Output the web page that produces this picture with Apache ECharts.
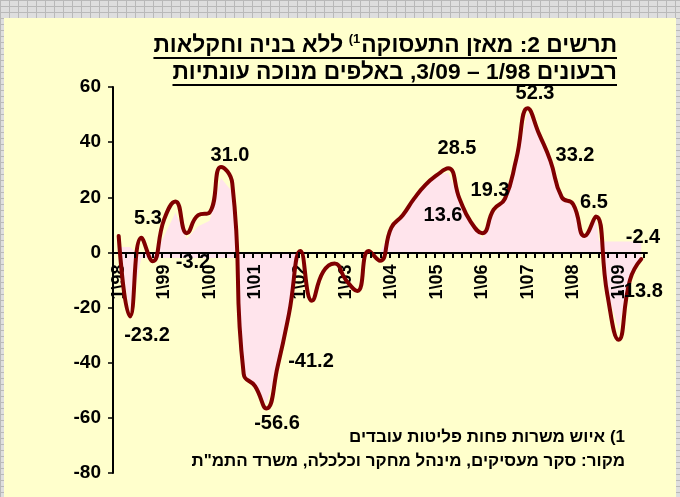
<!DOCTYPE html>
<html><head><meta charset="utf-8">
<script src="https://cdn.jsdelivr.net/npm/echarts@6/dist/echarts.min.js"></script>
<style>
html,body{margin:0;padding:0;width:680px;height:497px;overflow:hidden;}
body{background-color:#dedede;background-image:linear-gradient(to right,#b9b9b9 1px,transparent 1px),linear-gradient(to bottom,#b9b9b9 1px,transparent 1px);background-size:9px 6px;}
#bg{position:absolute;left:4px;top:18px;width:672px;height:479px;background:#FFFFCC;}
#chart{position:absolute;left:0;top:0;width:680px;height:497px;}
</style></head><body><div id="bg"></div><div id="chart"></div>
<script>
// ---- data ----
const quarterLabels = ['1\\98','2\\98','3\\98','4\\98','1\\99','2\\99','3\\99','4\\99','1\\00','2\\00','3\\00','4\\00','1\\01','2\\01','3\\01','4\\01','1\\02','2\\02','3\\02','4\\02','1\\03','2\\03','3\\03','4\\03','1\\04','2\\04','3\\04','4\\04','1\\05','2\\05','3\\05','4\\05','1\\06','2\\06','3\\06','4\\06','1\\07','2\\07','3\\07','4\\07','1\\08','2\\08','3\\08','4\\08','1\\09','2\\09','3\\09'];
const lineValues = [6,-23.2,5.3,-3.2,12,18.5,7,13.5,14.5,31.0,25,-44,-48.5,-56.6,-41.2,-22,0.5,-17.5,-7,-4,-10,-14,0.5,-3,9,13.5,19.5,24.5,28,30.5,19.5,11,7,15.5,19.5,34,52.3,43,33.2,20,17.5,6,13,-15,-31.7,-10,-2.4];
const pinkValues = [2,-22,-2,-2,6,14.5,5,9.5,11.5,27,22,-44,-48,-55,-42,-20,0,0,0,0,0,0,0,0,8,13,19,24,28,29,19,11,5,14,19,33,51,42,32,19,17,5,12,-14,-28,-8,-2];
const bandValues = [2,2,-2,-2,-2,-2,-2,-2,-2,-2,-2,-2,-2,-2,-2,-2,0,0,0,0,0,0,0,0,0,0,0,0,0,0,0,0,0,0,0,0,0,0,0,0,4,4,4,4,4,4,4];
const yMin = -80, yMax = 60, yStep = 20;
const tickMarkCount = 58; // small tick marks along the horizontal axis
const dataLabelTexts = ['5.3','-3.2','31.0','-23.2','-56.6','-41.2','28.5','13.6','19.3','52.3','33.2','6.5','-2.4','-13.8'];
const titleLine1Right = 'תרשים 2: מאזן התעסוקה';
const titleSup = '\u200F1)\u200F';
const titleLine1Left = 'ללא בניה וחקלאות';
const titleLine2 = 'רבעונים 1/98 – 3/09, באלפים מנוכה עונתיות';
const footnote1 = '\u200F1) איוש משרות פחות פליטות עובדים';
const footnote2 = 'מקור: סקר מעסיקים, מינהל מחקר וכלכלה, משרד התמ"ת';

// ---- layout ----
const dataLabelPos = [[148,218],[193,262],[230,155],[147,335],[277,423],[311,361],[457,148],[443,215],[490,190],[535,93],[575,155],[594,202],[643,237],[640,291]];
const FF = '"Liberation Sans", Arial, sans-serif';
const labelFont = 'bold 20px ' + FF;
const footFont = 'bold 17px ' + FF;
const tickStart = 126, tickStep = 9.09, tickLen = 6;

const mctx = document.createElement('canvas').getContext('2d');
function tw(t, f){ mctx.font = f; return mctx.measureText(t).width; }

const refFont = 'bold 19px ' + FF;
const w1ref = tw(titleLine1Right, refFont) + tw(' ', refFont) + tw(titleLine1Left, refFont) + tw(titleSup, 'bold 11px ' + FF);
const w2ref = tw(titleLine2, refFont);
const titleSize = Math.round(19 * 455 / ((w1ref + w2ref) / 2) * 10) / 10;
const titleFont = 'bold ' + titleSize + 'px ' + FF;
const supFont = 'bold ' + Math.round(titleSize * 0.58) + 'px ' + FF;

const tRight = 617;
const wA = tw(titleLine1Right, titleFont);
const wS = tw(titleSup, supFont);
const wSp = tw(' ', titleFont);
const wC = tw(titleLine1Left, titleFont);
const left1 = tRight - wA - wS - wSp - wC;
const w2 = tw(titleLine2, titleFont);

// grid geometry
const gTop = 87, gBottom = 24, gLeft = 113, gRight = 33;
const plotH = 497 - gTop - gBottom;
const zeroFromTop = plotH * yMax / (yMax - yMin);

const graphics = [];
graphics.push({type:'text', x:tRight, y:46, z:10, style:{text:titleLine1Right, font:titleFont, fill:'#000', align:'right', verticalAlign:'middle'}});
graphics.push({type:'text', x:tRight - wA - 1, y:39, z:10, style:{text:titleSup, font:supFont, fill:'#000', align:'right', verticalAlign:'middle'}});
graphics.push({type:'text', x:tRight - wA - wS - wSp, y:46, z:10, style:{text:titleLine1Left, font:titleFont, fill:'#000', align:'right', verticalAlign:'middle'}});
graphics.push({type:'line', z:10, shape:{x1:left1, y1:58, x2:tRight, y2:58}, style:{stroke:'#000', lineWidth:2}});
graphics.push({type:'text', x:tRight, y:73, z:10, style:{text:titleLine2, font:titleFont, fill:'#000', align:'right', verticalAlign:'middle'}});
graphics.push({type:'line', z:10, shape:{x1:tRight - w2, y1:85, x2:tRight, y2:85}, style:{stroke:'#000', lineWidth:2}});
graphics.push({type:'text', x:625, y:437, z:10, style:{text:footnote1, font:footFont, fill:'#000', align:'right', verticalAlign:'middle'}});
graphics.push({type:'text', x:625, y:461, z:10, style:{text:footnote2, font:footFont, fill:'#000', align:'right', verticalAlign:'middle'}});
dataLabelTexts.forEach((t, i) => {
  graphics.push({type:'text', x:dataLabelPos[i][0], y:dataLabelPos[i][1], z:10,
    style:{text:t, font:labelFont, fill:'#000', align:'center', verticalAlign:'middle'}});
});
// minor tick marks hanging below the zero line (axis decoration)
const zeroY = gTop + zeroFromTop;
for (let k = 0; k < tickMarkCount; k++) {
  const x = Math.round(tickStart + k * tickStep) - 1;
  graphics.push({type:'rect', z:6, silent:true, shape:{x:x, y:Math.round(zeroY), width:2, height:tickLen},
    style:{fill:'#000'}});
}

const chart = echarts.init(document.getElementById('chart'), null, {renderer:'canvas'});
chart.setOption({
  animation:false,
  backgroundColor:'transparent',
  grid:{left:gLeft, right:gRight, top:gTop, bottom:gBottom, containLabel:false, outerBoundsMode:'none'},
  xAxis:{
    type:'category', data:quarterLabels, boundaryGap:true, position:'bottom', z:2,
    axisLine:{show:true, onZero:false, lineStyle:{color:'#000', width:2}},
    offset: -(plotH - zeroFromTop),
    axisTick:{show:false},
    axisLabel:{interval:3, rotate:90, margin:12, color:'#000', fontFamily:FF, fontWeight:'bold', fontSize:18},
    splitLine:{show:false}
  },
  yAxis:{
    type:'value', min:yMin, max:yMax, interval:yStep, z:2,
    axisLine:{show:true, onZero:false, lineStyle:{color:'#000', width:2}},
    axisTick:{show:true, length:5, lineStyle:{color:'#000', width:1.5}},
    axisLabel:{margin:12, color:'#000', fontFamily:FF, fontWeight:'bold', fontSize:19},
    splitLine:{show:false}
  },
  series:[
    {type:'line', data:pinkValues, smooth:false, symbol:'none', silent:true, z:1,
      lineStyle:{opacity:0, width:0}, areaStyle:{color:'#FFE4EC', opacity:1}},
    {type:'line', data:bandValues, smooth:false, symbol:'none', silent:true, z:1,
      lineStyle:{opacity:0, width:0}, areaStyle:{color:'#FFE4EC', opacity:1}},
    {type:'line', data:lineValues, smooth:0.5, symbol:'none', z:3,
      lineStyle:{color:'#800000', width:4, cap:'round', join:'round'}}
  ],
  graphic:{elements:graphics}
});
</script></body></html>
